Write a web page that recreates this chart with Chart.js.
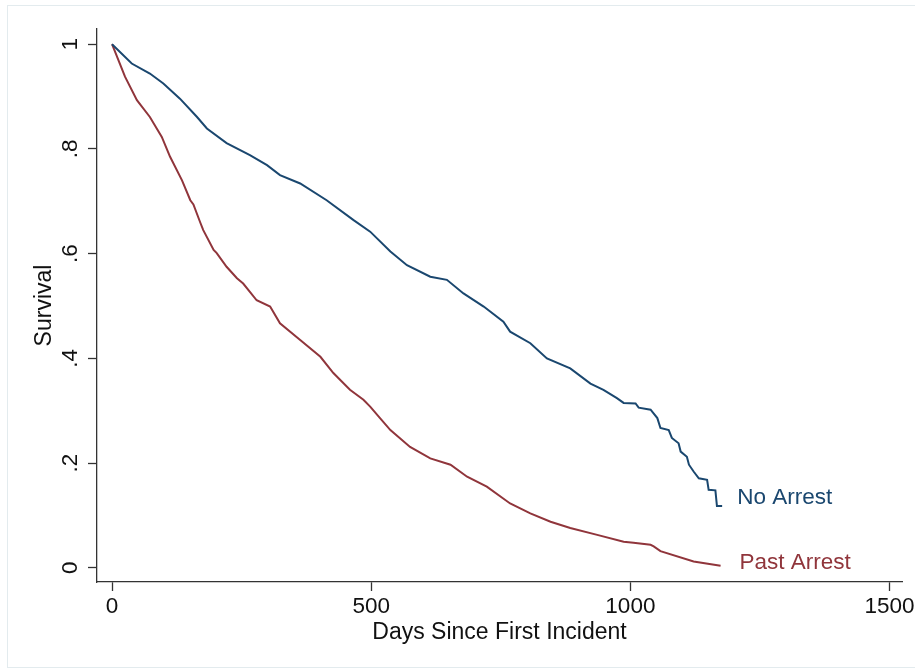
<!DOCTYPE html>
<html>
<head>
<meta charset="utf-8">
<script src="https://cdn.jsdelivr.net/npm/chart.js@4/dist/chart.umd.min.js"></script>
<style>
  body { margin: 0; background: #fff; overflow: hidden; }
  #wrap { position: relative; width: 915px; height: 670px; overflow: hidden; }
  #frame { position: absolute; left: 7px; top: 5px; width: 920px; height: 661px; border: 1px solid #e3ebee; pointer-events: none; }
</style>
</head>
<body>
<div id="wrap">
  <canvas id="km"></canvas>
  <div id="frame"></div>
</div>
<script>
// Kaplan-Meier survival estimates
const noArrestDays = [0, 38, 73, 99, 131, 164, 183, 221, 266, 299, 324, 363, 414, 466, 498, 537, 569, 614, 646, 678, 717, 755, 768, 807, 839, 884, 923, 948, 974, 987, 1010, 1016, 1039, 1052, 1058, 1074, 1080, 1093, 1097, 1109, 1113, 1122, 1132, 1148, 1151, 1164, 1167, 1177];
const noArrestSurv = [1.0, 0.963, 0.944, 0.925, 0.896, 0.861, 0.839, 0.811, 0.788, 0.769, 0.750, 0.734, 0.702, 0.664, 0.642, 0.604, 0.578, 0.556, 0.550, 0.524, 0.499, 0.470, 0.451, 0.429, 0.400, 0.381, 0.352, 0.340, 0.324, 0.315, 0.314, 0.306, 0.302, 0.286, 0.267, 0.263, 0.248, 0.238, 0.222, 0.212, 0.197, 0.184, 0.171, 0.168, 0.149, 0.148, 0.118, 0.118];

const pastArrestDays = [0, 25, 48, 73, 96, 112, 135, 151, 157, 170, 176, 196, 202, 221, 241, 253, 279, 305, 324, 363, 402, 427, 459, 485, 498, 517, 537, 575, 614, 653, 685, 723, 768, 807, 846, 884, 936, 987, 1006, 1039, 1045, 1058, 1122, 1174];
const pastArrestSurv = [1.0, 0.938, 0.893, 0.861, 0.823, 0.785, 0.740, 0.702, 0.694, 0.660, 0.645, 0.607, 0.601, 0.575, 0.553, 0.543, 0.511, 0.499, 0.467, 0.435, 0.403, 0.372, 0.340, 0.321, 0.308, 0.286, 0.263, 0.231, 0.209, 0.197, 0.174, 0.155, 0.123, 0.104, 0.088, 0.076, 0.063, 0.050, 0.048, 0.044, 0.041, 0.032, 0.012, 0.004];

const xTicks = [0, 500, 1000, 1500];
const xTickLabels = ['0', '500', '1000', '1500'];
const yTicks = [0, 0.2, 0.4, 0.6, 0.8, 1];
const yTickLabels = ['0', '.2', '.4', '.6', '.8', '1'];
const seriesNames = ['No Arrest', 'Past Arrest'];

const BLUE = '#1a476f';
const RED = '#90353b';
const FONT = "'Liberation Sans', Arial, Helvetica, sans-serif";

const toPoints = (xs, ys) => xs.map((x, i) => ({ x: x, y: ys[i] }));

// tick labels, axis titles and series end labels (Stata style)
const axisText = {
    id: 'axisText',
    afterDraw(chart) {
        const { ctx, scales: { x, y }, chartArea } = chart;
        ctx.save();
        ctx.fillStyle = '#111';
        ctx.font = `22.5px ${FONT}`;
        ctx.textAlign = 'center';
        ctx.textBaseline = 'middle';

        yTicks.forEach((v, i) => {
            ctx.save();
            ctx.translate(71, y.getPixelForValue(v));
            ctx.rotate(-Math.PI / 2);
            ctx.fillText(yTickLabels[i], 0, 0);
            ctx.restore();
        });
        xTicks.forEach((v, i) => {
            ctx.fillText(xTickLabels[i], x.getPixelForValue(v), chartArea.bottom + 25);
        });

        ctx.font = `23px ${FONT}`;
        ctx.fillText('Days Since First Incident', (chartArea.left + chartArea.right) / 2, chartArea.bottom + 51);
        ctx.save();
        ctx.translate(45, (chartArea.top + chartArea.bottom) / 2);
        ctx.rotate(-Math.PI / 2);
        ctx.fillText('Survival', 0, 0);
        ctx.restore();

        // end-of-line labels
        ctx.font = `22.5px ${FONT}`;
        ctx.textAlign = 'left';
        const offsets = [[15, -8], [19, -3]];
        chart.data.datasets.forEach((ds, i) => {
            const last = ds.data[ds.data.length - 1];
            ctx.fillStyle = ds.borderColor;
            ctx.fillText(seriesNames[i], x.getPixelForValue(last.x) + offsets[i][0], y.getPixelForValue(last.y) + offsets[i][1]);
        });
        ctx.restore();
    }
};

const tickMarks = { display: true, drawOnChartArea: false, drawTicks: true, tickLength: 9, tickColor: '#333', tickWidth: 1.3 };

new Chart(document.getElementById('km'), {
    type: 'line',
    data: {
        datasets: [
            {
                label: seriesNames[0],
                data: toPoints(noArrestDays, noArrestSurv),
                borderColor: BLUE,
                borderWidth: 2,
                pointRadius: 0,
                tension: 0
            },
            {
                label: seriesNames[1],
                data: toPoints(pastArrestDays, pastArrestSurv),
                borderColor: RED,
                borderWidth: 2,
                pointRadius: 0,
                tension: 0
            }
        ]
    },
    options: {
        responsive: true,
        maintainAspectRatio: false,
        animation: false,
        layout: { padding: { left: 88, top: 29, right: 13, bottom: 79 } },
        plugins: { legend: { display: false }, tooltip: { enabled: false } },
        scales: {
            x: {
                type: 'linear',
                min: -29,
                max: 1524,
                afterBuildTicks: (s) => { s.ticks = xTicks.map(v => ({ value: v })); },
                ticks: { display: false },
                grid: tickMarks,
                border: { display: true, color: '#333', width: 1.3 }
            },
            y: {
                type: 'linear',
                min: -0.027,
                max: 1.029,
                afterBuildTicks: (s) => { s.ticks = yTicks.map(v => ({ value: v })); },
                ticks: { display: false },
                grid: tickMarks,
                border: { display: true, color: '#333', width: 1.3 }
            }
        }
    },
    plugins: [axisText]
});
</script>
</body>
</html>
